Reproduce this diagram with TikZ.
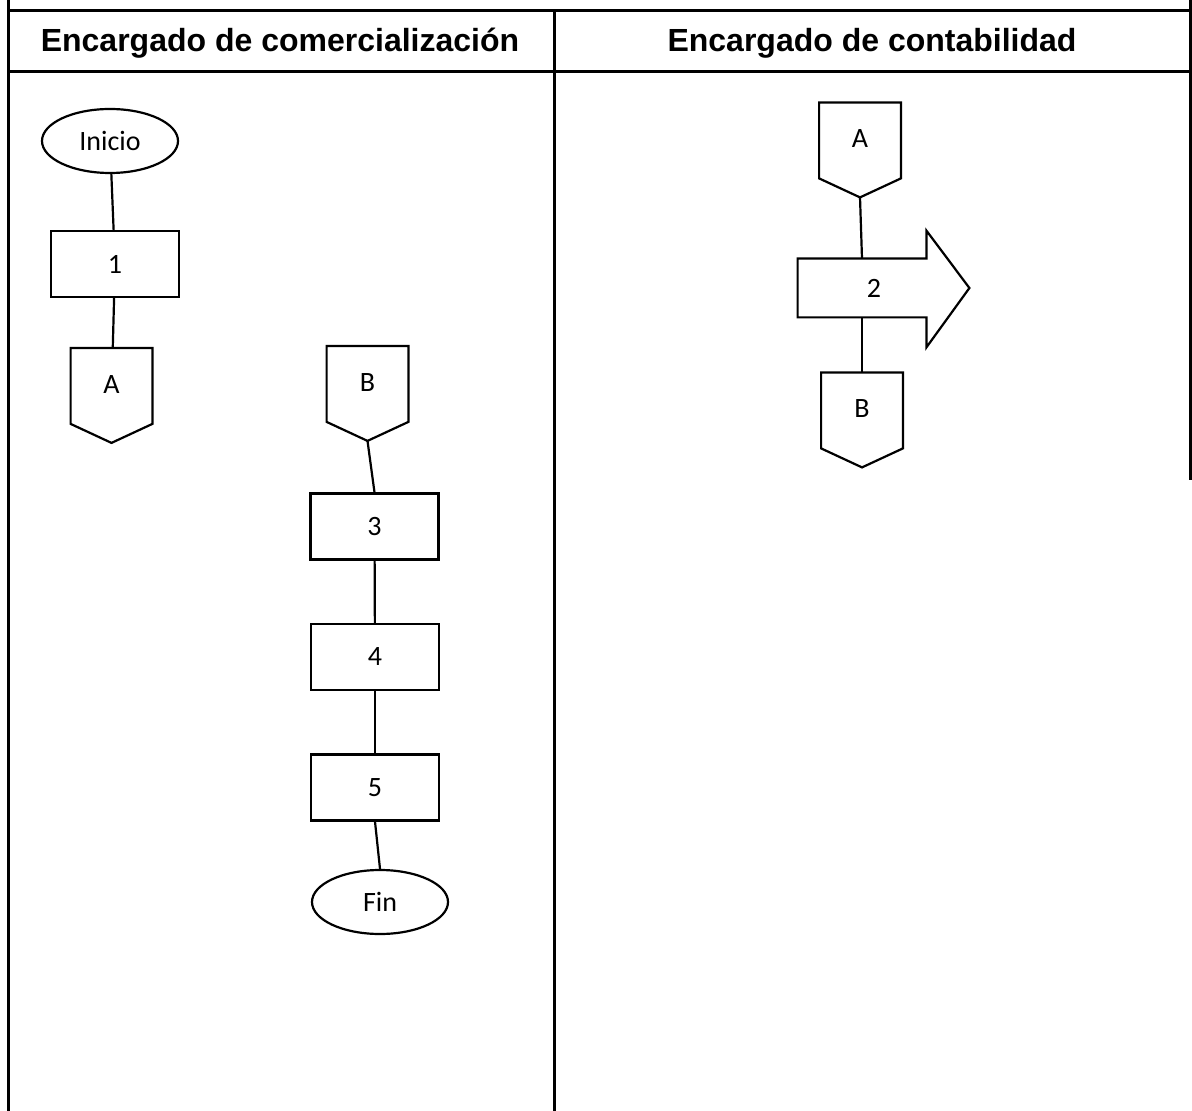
\documentclass[tikz,border=0pt]{standalone}
\usepackage{fontspec}
\setmainfont{Carlito}
\newfontfamily\hdrfont{Liberation Sans}
\usetikzlibrary{shapes.geometric}
\begin{document}
\begin{tikzpicture}[
  x=0.5pt, y=-0.5pt,
  font=\fontsize{14}{16}\selectfont,
  frame/.style={line width=1.5pt},
  header/.style={font=\hdrfont\bfseries\fontsize{16}{18}\selectfont},
  terminal/.style={ellipse, draw, line width=1.1pt, minimum width=68pt, minimum height=32pt, inner sep=0pt},
  process/.style={rectangle, draw, line width=1.1pt, minimum width=64pt, minimum height=33pt},
  offpage/.style={rectangle, minimum width=40.5pt, minimum height=47pt, inner sep=0pt,
    text height=8pt, text depth=10pt,
    append after command={\pgfextra{\draw[line width=1.1pt] (\tikzlastnode.north west)
      -- ([yshift=9.5pt]\tikzlastnode.south west) -- (\tikzlastnode.south)
      -- ([yshift=9.5pt]\tikzlastnode.south east) -- (\tikzlastnode.north east) -- cycle;}}},
  bigarrow/.style={rectangle, minimum width=64pt, minimum height=29pt, inner sep=0pt,
    append after command={\pgfextra{\draw[line width=1.1pt] (\tikzlastnode.north west)
      -- (\tikzlastnode.north east) -- ([yshift=14pt]\tikzlastnode.north east)
      -- ([xshift=21.5pt]\tikzlastnode.east) -- ([yshift=-15pt]\tikzlastnode.south east)
      -- (\tikzlastnode.south east) -- (\tikzlastnode.south west) -- cycle;}}},
  link/.style={line width=1.1pt}
]
  \useasboundingbox (0,0) rectangle (1192,1111);
  % table
  \draw[frame] (8,0) -- (8,1111);
  \draw[frame] (1190,0) -- (1190,480);
  \draw[frame] (8,11) -- (1192,11);
  \draw[frame] (8,72) -- (1192,72);
  \draw[frame] (554,11) -- (554,1111);
  \node[header] (hdrcom) at (280,43) {Encargado de comercialización};
  \node[header] (hdrcon) at (872,43) {Encargado de contabilidad};

  % comercializacion
  \node[terminal] (inicio) at (110,141) {Inicio};
  \node[process] (p1) at (115,264) {1};
  \node[offpage] (ca) at (111.5,395.5) {A};
  \node[offpage] (cb) at (367.5,393.5) {B};
  \node[process] (p3) at (374.5,526.5) {3};
  \node[process] (p4) at (375,657) {4};
  \node[process] (p5) at (375,787.5) {5};
  \node[terminal] (fin) at (380,902) {Fin};

  % contabilidad
  \node[offpage] (ra) at (860,150) {A};
  \node[bigarrow] (p2) at (862,288) {\hspace*{12pt}2};
  \node[offpage] (rb) at (862,420) {B};

  \draw[link] (inicio) -- (p1);
  \draw[link] (p1) -- (ca);
  \draw[link] (cb.south) -- (p3.north);
  \draw[link] (p3) -- (p4);
  \draw[link] (p4) -- (p5);
  \draw[link] (p5.south) -- (fin.north);
  \draw[link] (ra.south) -- (p2.north);
  \draw[link] (p2.south) -- (rb.north);
\end{tikzpicture}
\end{document}
